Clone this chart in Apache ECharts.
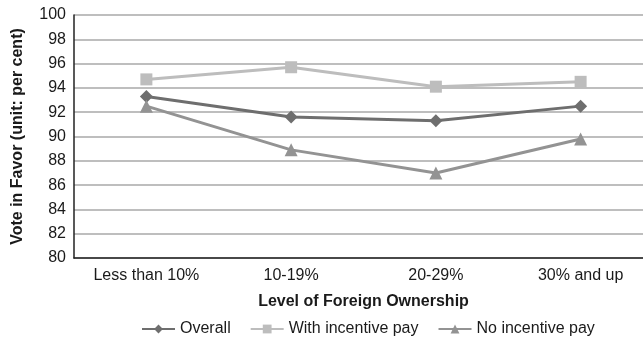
<!DOCTYPE html>
<html>
<head>
<meta charset="utf-8">
<script src="https://cdn.jsdelivr.net/npm/echarts@6/dist/echarts.min.js"></script>
<style>
  html, body { margin: 0; padding: 0; background: #fff; }
  #chart { width: 643px; height: 337px; }
</style>
</head>
<body>
<div id="chart"></div>
<script>
// Ownership bands along the x axis
const categories = ['Less than 10%', '10-19%', '20-29%', '30% and up'];

// Share of votes in favour (per cent) for each band
const overall = [93.3, 91.6, 91.3, 92.5];
const withIncentivePay = [94.7, 95.7, 94.1, 94.5];
const noIncentivePay = [92.5, 88.9, 87.0, 89.8];

const FONT = 'Liberation Sans, Arial, Helvetica, sans-serif';

const chart = echarts.init(document.getElementById('chart'), null, { renderer: 'canvas' });

function lineSeries(name, data, color, symbol, size) {
  return {
    name: name,
    type: 'line',
    data: data,
    symbol: symbol,
    symbolSize: size,
    showAllSymbol: true,
    lineStyle: { color: color, width: 3 },
    itemStyle: { color: color },
    emphasis: { disabled: true },
    z: 3
  };
}

chart.setOption({
  animation: false,
  backgroundColor: '#ffffff',
  grid: {
    left: 74, right: -10, top: 15, bottom: 79,
    containLabel: false,
    outerBoundsMode: 'none'
  },
  legend: {
    top: 316,
    left: 136,
    itemWidth: 33,
    itemHeight: 11,
    itemGap: 19,
    textStyle: { fontFamily: FONT, fontSize: 16, color: '#1a1a1a' },
    data: ['Overall', 'With incentive pay', 'No incentive pay']
  },
  xAxis: {
    type: 'category',
    data: categories,
    boundaryGap: true,
    name: 'Level of Foreign Ownership',
    nameLocation: 'middle',
    nameGap: 36,
    nameTextStyle: { fontFamily: FONT, fontSize: 16, fontWeight: 'bold', color: '#1a1a1a' },
    axisLine: { lineStyle: { color: '#222', width: 1.5 } },
    axisTick: { show: false },
    axisLabel: { fontFamily: FONT, fontSize: 16, color: '#1a1a1a', margin: 10 }
  },
  yAxis: {
    type: 'value',
    min: 80,
    max: 100,
    interval: 2,
    name: 'Vote in Favor (unit: per cent)',
    nameLocation: 'middle',
    nameGap: 48,
    nameRotate: 90,
    nameTextStyle: { fontFamily: FONT, fontSize: 16, fontWeight: 'bold', color: '#1a1a1a' },
    axisLine: { show: true, lineStyle: { color: '#222', width: 1.5 } },
    axisTick: { show: false },
    axisLabel: { fontFamily: FONT, fontSize: 16, color: '#1a1a1a', margin: 8 },
    splitLine: { show: true, lineStyle: { color: '#a9a9a9', width: 1.5 } }
  },
  series: [
    lineSeries('Overall', overall, '#6e6e6e', 'diamond', 13),
    lineSeries('With incentive pay', withIncentivePay, '#bdbdbd', 'rect', 12),
    lineSeries('No incentive pay', noIncentivePay, '#939393', 'triangle', 13)
  ]
});
</script>
</body>
</html>
